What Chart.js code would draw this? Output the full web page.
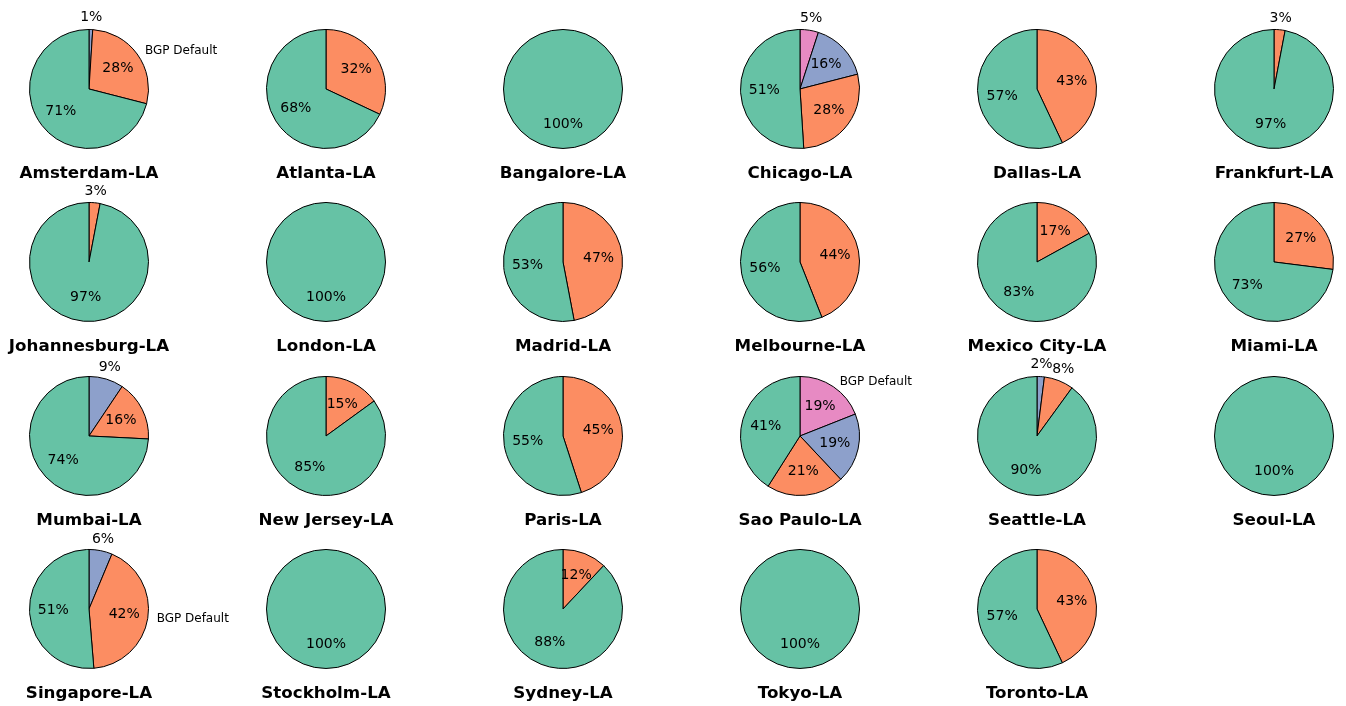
<!DOCTYPE html>
<html>
<head>
<meta charset="utf-8">
<script src="https://cdn.jsdelivr.net/npm/chart.js@4.4.1/dist/chart.umd.min.js"></script>
<style>
    html, body { margin: 0; padding: 0; background: #fff; }
    #grid { position: relative; width: 1346px; height: 706px; overflow: hidden; }
    #grid canvas { position: absolute; }
</style>
</head>
<body>
<div id="grid"></div>
<script>
// one pie per city pair, slices go clockwise from 12 o'clock: pink, blue, orange, green
const cities = [
    "Amsterdam-LA", "Atlanta-LA", "Bangalore-LA", "Chicago-LA", "Dallas-LA", "Frankfurt-LA",
    "Johannesburg-LA", "London-LA", "Madrid-LA", "Melbourne-LA", "Mexico City-LA", "Miami-LA",
    "Mumbai-LA", "New Jersey-LA", "Paris-LA", "Sao Paulo-LA", "Seattle-LA", "Seoul-LA",
    "Singapore-LA", "Stockholm-LA", "Sydney-LA", "Tokyo-LA", "Toronto-LA"
];
const pinkShare   = [0, 0, 0, 5, 0, 0,   0, 0, 0, 0, 0, 0,   0,   0, 0, 19, 0, 0,   0,    0, 0, 0, 0];
const blueShare   = [1, 0, 0, 16, 0, 0,  0, 0, 0, 0, 0, 0,   9.4, 0, 0, 19, 2, 0,   6.3,  0, 0, 0, 0];
const orangeShare = [28, 32, 0, 28, 43, 3, 3, 0, 47, 44, 17, 27, 16.4, 15, 45, 21, 8, 0, 42.4, 0, 12, 0, 43];
const greenShare  = [71, 68, 100, 51, 57, 97, 97, 100, 53, 56, 83, 73, 74.2, 85, 55, 41, 90, 100, 51.3, 100, 88, 100, 57];
// which slice carries the "BGP Default" label (0 pink, 1 blue, 2 orange, 3 green), null = none
const bgpDefaultSlice = [2, null, null, null, null, null, null, null, null, null, null, null,
                         null, null, null, 0, null, null, 2, null, null, null, null];

const sliceColors = ["#e78ac3", "#8da0cb", "#fc8d62", "#66c2a5"];
const FONT = "'DejaVu Sans', 'Liberation Sans', sans-serif";
const CW = 330, CH = 210; // canvas size, wider than a cell so outside labels fit

const pctLabels = {
    id: "pctLabels",
    afterDatasetsDraw(chart) {
        const ctx = chart.ctx;
        const ds = chart.data.datasets[0];
        const total = ds.data.reduce((a, b) => a + b, 0);
        const arcs = chart.getDatasetMeta(0).data;
        ctx.save();
        // a lone 100% slice: draw just the rim (no radial edge)
        if (arcs.length === 1) {
            const {x, y, outerRadius} = arcs[0].getProps(["x", "y", "outerRadius"], true);
            ctx.beginPath();
            ctx.arc(x, y, outerRadius, 0, Math.PI * 2);
            ctx.strokeStyle = "#000";
            ctx.lineWidth = 1;
            ctx.stroke();
        }
        ctx.fillStyle = "#000";
        ctx.textBaseline = "middle";
        arcs.forEach((arc, i) => {
            const {x, y, startAngle, endAngle, outerRadius} = arc.getProps(["x", "y", "startAngle", "endAngle", "outerRadius"], true);
            const mid = (startAngle + endAngle) / 2;
            const pct = Math.round(ds.data[i] / total * 100);
            const r = pct < 10 ? outerRadius * 1.2 : outerRadius * 0.6;
            ctx.font = "14px " + FONT;
            ctx.textAlign = "center";
            ctx.fillText(pct + "%", x + r * Math.cos(mid), y + r * Math.sin(mid));
            if (ds.bgpLabel[i]) {
                const lx = x + outerRadius * 1.1 * Math.cos(mid);
                const ly = y + outerRadius * 1.1 * Math.sin(mid);
                ctx.font = "12px " + FONT;
                ctx.textAlign = lx >= x ? "left" : "right";
                ctx.fillText(ds.bgpLabel[i], lx + (lx >= x ? 3 : -3), ly);
            }
        });
        ctx.restore();
    }
};

const grid = document.getElementById("grid");

cities.forEach((city, i) => {
    const col = i % 6;
    const row = Math.floor(i / 6);
    const cx = 89 + col * 237;
    const cy = 89 + row * 173.3;

    const canvas = document.createElement("canvas");
    canvas.width = CW;
    canvas.height = CH;
    canvas.style.left = Math.round(cx - CW / 2) + "px";
    canvas.style.top = Math.round(cy - 100) + "px";
    grid.appendChild(canvas);

    // drop empty slices so they leave no stray edge
    const raw = [pinkShare[i], blueShare[i], orangeShare[i], greenShare[i]];
    const values = [], colors = [], labels = [];
    raw.forEach((v, k) => {
        if (v > 0) {
            values.push(v);
            colors.push(sliceColors[k]);
            labels.push(bgpDefaultSlice[i] === k ? "BGP Default" : "");
        }
    });

    new Chart(canvas.getContext("2d"), {
        type: "pie",
        data: {
            labels: labels,
            datasets: [{
                data: values,
                backgroundColor: colors,
                borderColor: "#000",
                borderWidth: values.length > 1 ? 1 : 0,
                bgpLabel: labels
            }]
        },
        options: {
            responsive: false,
            animation: false,
            radius: 59.5,
            layout: {padding: {top: 25.5, bottom: 0, left: 0, right: 0}},
            plugins: {
                legend: {display: false},
                tooltip: {enabled: false},
                title: {
                    display: true,
                    position: "bottom",
                    text: city,
                    color: "#000",
                    font: {family: FONT, size: 16.7, weight: "bold"},
                    padding: {top: 0, bottom: 15.5}
                }
            }
        },
        plugins: [pctLabels]
    });
});
</script>
</body>
</html>
